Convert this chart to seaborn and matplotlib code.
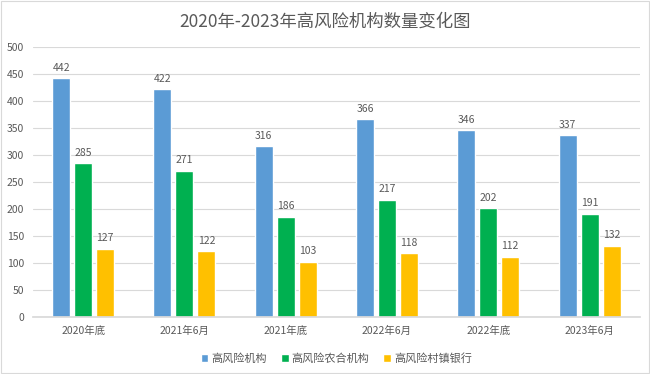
import pandas as pd
import matplotlib
matplotlib.use("Agg")
import matplotlib.pyplot as plt
import seaborn as sns

# chart data
periods = ["2020年底", "2021年6月", "2021年底", "2022年6月", "2022年底", "2023年6月"]
series_names = ["高风险机构", "高风险农合机构", "高风险村镇银行"]
high_risk = [442, 422, 316, 366, 346, 337]
rural_coop = [285, 271, 186, 217, 202, 191]
village_bank = [127, 122, 103, 118, 112, 132]
y_ticks = [0, 50, 100, 150, 200, 250, 300, 350, 400, 450, 500]

colors = ["#5B9BD5", "#00B050", "#FFC000"]
text_color = "#595959"

sns.set_theme(style="white")
plt.rcParams["font.family"] = ["Noto Sans CJK SC", "DejaVu Sans"]

rows = []
for name, values in zip(series_names, [high_risk, rural_coop, village_bank]):
    for period, v in zip(periods, values):
        rows.append({"period": period, "series": name, "value": v})
df = pd.DataFrame(rows)

fig = plt.figure(figsize=(6.5, 3.74), dpi=100)
ax = fig.add_axes([0.05, 0.152, 0.935, 0.722])

sns.barplot(data=df, x="period", y="value", hue="series", order=periods,
            hue_order=series_names, palette=colors, width=0.65, gap=0.18,
            saturation=1, ax=ax, legend=True)

for container in ax.containers:
    ax.bar_label(container, padding=4, fontsize=7.5, color=text_color)

ax.set_ylim(0, 500)
ax.set_yticks(y_ticks)
ax.set_xlim(-0.5, len(periods) - 0.5)
ax.yaxis.grid(True, color="#D9D9D9", linewidth=0.8)
ax.set_axisbelow(True)
for side in ["top", "right", "left"]:
    ax.spines[side].set_visible(False)
ax.spines["bottom"].set_color("#D9D9D9")
ax.tick_params(axis="both", labelsize=7.5, colors=text_color, length=0, pad=6)
ax.set_xlabel("")
ax.set_ylabel("")

ax.legend(loc="upper center", bbox_to_anchor=(0.5, -0.095), ncol=3, frameon=False,
          fontsize=8, handlelength=0.7, handleheight=0.7, handletextpad=0.3,
          columnspacing=1.2, labelcolor=text_color)

fig.suptitle("2020年-2023年高风险机构数量变化图", y=0.965, fontsize=12.5, color=text_color)

# thin light border around the figure
fig.patches.append(plt.Rectangle((0.002, 0.002), 0.996, 0.996, transform=fig.transFigure,
                                 fill=False, edgecolor="#D9D9D9", linewidth=0.8))

fig.savefig("out.png", dpi=100)
